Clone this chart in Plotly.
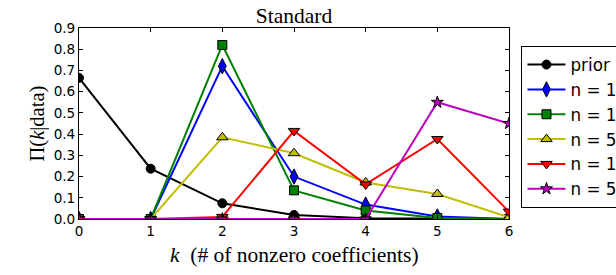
import plotly.graph_objects as go

k_values = [0, 1, 2, 3, 4, 5, 6]
prior = [0.665, 0.237, 0.074, 0.019, 0.004, 0.001, 0.0]
n_10 = [0.0, 0.0, 0.72, 0.20, 0.068, 0.012, 0.0]
n_100 = [0.0, 0.0, 0.82, 0.135, 0.04, 0.005, 0.0]
n_500 = [0.0, 0.0, 0.385, 0.31, 0.172, 0.118, 0.008]
n_1000 = [0.0, 0.0, 0.01, 0.415, 0.163, 0.377, 0.035]
n_5000 = [0.0, 0.0, 0.0, 0.0, 0.0, 0.55, 0.45]

series_names = ["prior", "n = 10", "n = 100", "n = 500", "n = 1000", "n = 5000"]
series_values = [prior, n_10, n_100, n_500, n_1000, n_5000]
colors = ["#000000", "#0000ff", "#008000", "#bfbf00", "#ff0000", "#bf00bf"]
symbols = ["circle", "diamond-tall", "square", "triangle-up", "triangle-down", "star"]
sizes = [9, 11, 9, 10, 10, 9]

y_ticks = [0.0, 0.1, 0.2, 0.3, 0.4, 0.5, 0.6, 0.7, 0.8, 0.9]

FIG_W = 616
FIG_H = 275
fig = go.Figure()
for name, vals, c, s, sz in zip(series_names, series_values, colors, symbols, sizes):
    fig.add_trace(go.Scatter(
        x=k_values, y=vals, name=name, mode="lines+markers",
        line=dict(color=c, width=2),
        marker=dict(symbol=s, size=sz, color=c, line=dict(color="black", width=1)),
        cliponaxis=True,
    ))

fig.update_layout(
    width=FIG_W, height=FIG_H,
    margin=dict(l=79, r=107, t=28, b=56, autoexpand=False),
    paper_bgcolor="white", plot_bgcolor="white",
    font=dict(family="DejaVu Sans", color="black", size=13.6),
    showlegend=True,
    legend=dict(
        x=1.029, y=0.905, xanchor="left", yanchor="top",
        bordercolor="black", borderwidth=1, bgcolor="white",
        font=dict(family="DejaVu Sans", size=16.8, color="black"),
        traceorder="normal", itemwidth=38,
    ),
    title=dict(
        text="Standard", x=0.5, xref="paper", y=1 - 15 / FIG_H,
        yref="container", xanchor="center", yanchor="middle",
        font=dict(family="Liberation Serif", size=21.5, color="black"),
    ),
    xaxis=dict(
        range=[0, 6], tickvals=k_values, ticktext=[str(v) for v in k_values],
        ticks="inside", ticklen=4, tickcolor="black", showline=True, linecolor="black",
        linewidth=1, mirror="ticks", showgrid=False, zeroline=False,
    ),
    yaxis=dict(
        range=[0, 0.9], tickvals=y_ticks, ticktext=[f"{v:.1f}" for v in y_ticks],
        ticks="inside", ticklen=4, tickcolor="black", showline=True, linecolor="black",
        linewidth=1, mirror="ticks", showgrid=False, zeroline=False,
    ),
    annotations=[
        dict(text="<i>k</i>\u00a0\u00a0(# of nonzero coefficients)", xref="paper", yref="paper",
             x=0.5, y=-(255 - 219.3) / 191.6, xanchor="center", yanchor="middle",
             showarrow=False, font=dict(family="Liberation Serif", size=21.5, color="black")),
        dict(text="Π(<i>k</i>|data)", xref="paper", yref="paper",
             x=(37 - 79) / 430, y=0.5, xanchor="center", yanchor="middle", textangle=-90,
             showarrow=False, font=dict(family="Liberation Serif", size=20.5, color="black")),
    ],
)

fig.write_html("out.html", config={"displayModeBar": False},
               post_script="document.body.style.margin='0px';")
